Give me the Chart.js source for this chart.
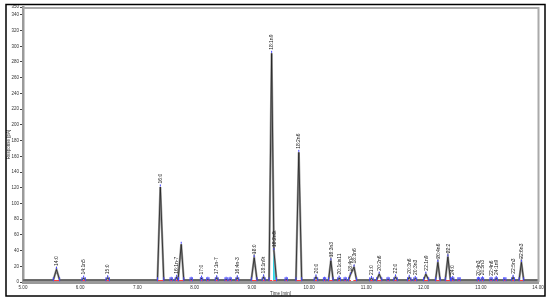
<!DOCTYPE html>
<html><head><meta charset="utf-8">
<script src="https://cdn.jsdelivr.net/npm/chart.js@4.4.1/dist/chart.umd.min.js"></script>
<style>html,body{margin:0;padding:0;background:#fff;}canvas{display:block;}</style>
</head><body>
<canvas id="c" width="550" height="303" style="width:550px;height:303px"></canvas>
<script>
// ---- data ----
const peakLabels = ['14:0','14:1n5','15:0','16:0','','16:1n-7','','','17:0','','17:1n-7','','','16:4n-3','18:0','18:1n9t','18:1n9','18:2n6t','','18:2n6','20:0','','18:3n3','20:1cis11','','18:4n3','18:3n6','21:0','20:2n6','','22:0','20:3n6','20:3n3','22:1n9','20:4n6','22:2','24:0','','20:4n3','20:5n3','22:4n6','24:1n9','','22:5n3','22:6n3'];
const peakTimes   = [5.585,6.06,6.48,7.40,7.59,7.685,7.765,7.94,8.12,8.23,8.385,8.55,8.62,8.745,9.04,9.205,9.345,9.385,9.60,9.82,10.12,10.27,10.38,10.525,10.63,10.72,10.785,11.09,11.225,11.38,11.51,11.75,11.855,12.04,12.25,12.425,12.51,12.62,12.96,13.03,13.18,13.27,13.42,13.565,13.71];
const peakHeights = [16,5,5.5,121,3.5,6,48,3.5,5,3.5,5.5,3.5,3.5,5.5,31,6.5,291,40,3.5,165,6.5,3.5,27,5,3.5,9,19,4.5,10,3.5,6.5,6,4.5,10,25,32,4.5,3,3.5,4,3.5,4.5,3,6,25];
const peakStarts  = [5.53,6.03,6.45,7.35,7.57,7.66,7.72,7.92,8.10,8.21,8.36,8.53,8.60,8.72,8.99,9.18,9.30,null,9.58,9.77,10.09,10.25,10.34,10.50,10.61,10.69,null,11.06,11.18,11.36,11.48,11.72,11.83,12.00,12.21,12.38,12.49,12.60,12.94,13.01,13.16,13.25,13.40,13.54,13.67];
const peakEnds    = [5.64,6.09,6.51,7.46,7.61,7.71,7.81,7.96,8.14,8.25,8.41,8.57,8.64,8.77,9.09,9.23,null,9.43,9.62,9.87,10.15,10.29,10.42,10.55,10.65,null,10.83,11.12,11.27,11.40,11.54,11.78,11.88,12.09,12.29,12.47,12.53,12.64,12.98,13.05,13.20,13.29,13.44,13.59,13.75];
const baselineLevel = 2.5;
const shadedPeak = '18:2n6t';
const xTicks = [5,6,7,8,9,10,11,12,13,14];
const yTicks = [0,20,40,60,80,100,120,140,160,180,200,220,240,260,280,300,320,340,350];

// ---- build datasets from the arrays ----
const trace = [{x: xTicks[0], y: baselineLevel}];
peakTimes.forEach((t, i) => {
  if (peakStarts[i] !== null) trace.push({x: peakStarts[i], y: baselineLevel});
  trace.push({x: t, y: peakHeights[i]});
  if (peakEnds[i] !== null) trace.push({x: peakEnds[i], y: baselineLevel});
});
trace.push({x: xTicks[xTicks.length - 1], y: baselineLevel});

const redSegs = [];
const blueMarks = [];
peakTimes.forEach((t, i) => {
  const a = peakStarts[i] !== null ? peakStarts[i] : t - 0.012;
  const b = peakEnds[i] !== null ? peakEnds[i] : t + 0.012;
  redSegs.push({x: a, y: baselineLevel - 0.6}, {x: b, y: baselineLevel - 0.6}, {x: b, y: null});
  if (peakStarts[i] !== null) blueMarks.push({x: peakStarts[i], y: baselineLevel + 1});
  if (peakEnds[i] !== null) blueMarks.push({x: peakEnds[i], y: baselineLevel + 1});
});

const si = peakLabels.indexOf(shadedPeak);
const shade = [
  {x: peakTimes[si] - 0.014, y: baselineLevel},
  {x: peakTimes[si] - 0.014, y: peakHeights[si] * 0.92},
  {x: peakTimes[si], y: peakHeights[si]},
  {x: peakEnds[si], y: baselineLevel}
];

Chart.defaults.font.family = '"Liberation Sans", Arial, sans-serif';

const decor = {
  id: 'decor',
  beforeDraw(chart) {
    const c = chart.ctx; c.save(); c.fillStyle = '#fff'; c.fillRect(0, 0, chart.width, chart.height); c.restore();
  },
  afterDatasetsDraw(chart) {
    const {ctx, scales: {x, y}} = chart;
    ctx.save();
    peakTimes.forEach((t, i) => {
      const px = x.getPixelForValue(t), py = y.getPixelForValue(peakHeights[i]);
      ctx.strokeStyle = '#4646ff'; ctx.lineWidth = 1;
      ctx.beginPath(); ctx.moveTo(px, py - 0.5); ctx.lineTo(px, py - 2.5); ctx.stroke();
      if (peakLabels[i]) {
        ctx.save();
        ctx.translate(px + 0.3, py - 3.5);
        ctx.rotate(-Math.PI / 2);
        ctx.fillStyle = '#222';
        ctx.font = '5px "Liberation Sans", Arial, sans-serif';
        ctx.textAlign = 'left'; ctx.textBaseline = 'middle';
        ctx.fillText(peakLabels[i], 0, 0);
        ctx.restore();
      }
    });
    ctx.restore();
  },
  afterDraw(chart) {
    const {ctx, chartArea: a} = chart;
    ctx.save();
    ctx.strokeStyle = '#aaa'; ctx.lineWidth = 2;
    ctx.beginPath(); ctx.moveTo(a.left, a.top + 1); ctx.lineTo(a.right + 0.5, a.top + 1); ctx.lineTo(a.right + 0.5, a.bottom); ctx.stroke();
    ctx.strokeStyle = '#000'; ctx.lineWidth = 1.5;
    ctx.strokeRect(6, 4.5, 539, 291.5);
    ctx.restore();
  }
};

new Chart(document.getElementById('c'), {
  type: 'scatter',
  data: {
    datasets: [
      {data: blueMarks, showLine: false, pointStyle: 'line', rotation: 90, pointRadius: 2, borderColor: '#4646ff', backgroundColor: '#4646ff', borderWidth: 1, order: 0},
      {data: redSegs, showLine: true, spanGaps: false, pointRadius: 0, borderColor: '#ff3b3b', borderWidth: 1.2, order: 1},
      {data: trace, showLine: true, pointRadius: 0, borderColor: '#1e1e1e', borderWidth: 0.8, order: 2},
      {data: trace, showLine: true, pointRadius: 0, borderColor: '#9c9c9c', borderWidth: 2.2, order: 3},
      {data: shade, showLine: true, pointRadius: 0, borderColor: '#2fd8ea', backgroundColor: '#49e3f0', borderWidth: 1, fill: {value: baselineLevel}, order: 4}
    ]
  },
  options: {
    responsive: false, animation: false, events: [],
    layout: {padding: {left: 6, right: 12, top: 7, bottom: 7}},
    plugins: {legend: {display: false}, tooltip: {enabled: false}},
    scales: {
      x: {
        type: 'linear', min: xTicks[0], max: xTicks[xTicks.length - 1],
        afterBuildTicks: s => { s.ticks = xTicks.map(v => ({value: v})); },
        afterFit: s => { s.height = 14; },
        ticks: {font: {size: 4.5}, color: '#333', padding: 1, maxRotation: 0, autoSkip: false, callback: v => Number(v).toFixed(2)},
        grid: {display: true, drawOnChartArea: false, drawTicks: true, tickLength: 2, color: '#999'},
        border: {display: true, color: '#9a9a9a', width: 3},
        title: {display: true, text: 'Time [min]', font: {size: 4.5}, color: '#333', padding: 0}
      },
      y: {
        min: 0, max: 350,
        afterBuildTicks: s => { s.ticks = yTicks.map(v => ({value: v})); },
        afterFit: s => { s.width = 17; },
        ticks: {font: {size: 4.5}, color: '#333', padding: 1, autoSkip: false},
        grid: {display: true, drawOnChartArea: false, drawTicks: true, tickLength: 3, color: '#444'},
        border: {display: true, color: '#9a9a9a', width: 2.5},
        title: {display: true, text: 'Response [pA]', font: {size: 4.5}, color: '#333', padding: 0}
      }
    }
  },
  plugins: [decor]
});
</script>
</body></html>
